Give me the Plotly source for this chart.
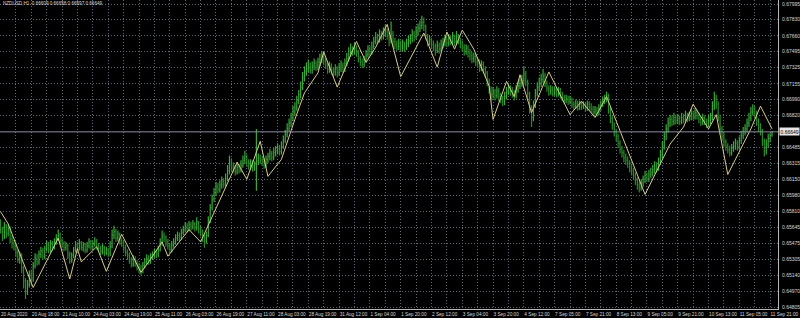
import plotly.graph_objects as go

symbol = "NZDUSD,H1"
first_open = 0.6568

close = [
0.6562,0.6555,0.6566,0.6558,0.6563,0.6552,0.6548,0.6545,0.6538,0.6531,
0.6535,0.6522,0.6508,0.6497,0.6504,0.6515,0.6510,0.6524,0.6532,0.6528,
0.6536,0.6540,0.6534,0.6542,0.6546,0.6541,0.6547,0.6544,0.6549,0.6553,
0.6556,0.6550,0.6547,0.6543,0.6545,0.6536,0.6530,0.6535,0.6541,0.6546,
0.6543,0.6548,0.6543,0.6546,0.6541,0.6545,0.6549,0.6544,0.6547,0.6550,
0.6545,0.6542,0.6539,0.6543,0.6538,0.6541,0.6537,0.6544,0.6556,0.6560,
0.6553,0.6557,0.6550,0.6548,0.6543,0.6538,0.6535,0.6530,0.6526,0.6531,
0.6527,0.6524,0.6521,0.6519,0.6524,0.6528,0.6532,0.6529,0.6533,0.6535,
0.6538,0.6536,0.6541,0.6548,0.6555,0.6553,0.6549,0.6545,0.6541,0.6546,
0.6549,0.6553,0.6556,0.6554,0.6559,0.6562,0.6566,0.6563,0.6567,0.6565,
0.6568,0.6564,0.6569,0.6563,0.6560,0.6554,0.6550,0.6556,0.6572,0.6585,
0.6594,0.6601,0.6607,0.6604,0.6609,0.6613,0.6610,0.6616,0.6624,0.6632,
0.6629,0.6626,0.6623,0.6628,0.6625,0.6630,0.6635,0.6638,0.6633,0.6629,
0.6632,0.6628,0.6630,0.6634,0.6637,0.6635,0.6633,0.6630,0.6636,0.6639,
0.6642,0.6638,0.6643,0.6645,0.6648,0.6644,0.6650,0.6656,0.6662,0.6668,
0.6674,0.6680,0.6686,0.6690,0.6698,0.6704,0.6712,0.6722,0.6728,0.6732,
0.6735,0.6730,0.6734,0.6737,0.6734,0.6738,0.6741,0.6744,0.6740,0.6735,
0.6731,0.6734,0.6730,0.6728,0.6731,0.6727,0.6732,0.6735,0.6731,0.6737,
0.6742,0.6748,0.6751,0.6749,0.6753,0.6748,0.6742,0.6738,0.6736,0.6741,
0.6746,0.6751,0.6749,0.6755,0.6760,0.6764,0.6762,0.6767,0.6765,0.6769,
0.6771,0.6766,0.6762,0.6768,0.6760,0.6757,0.6755,0.6758,0.6754,0.6757,
0.6754,0.6758,0.6761,0.6763,0.6768,0.6765,0.6770,0.6774,0.6777,0.6780,
0.6776,0.6766,0.6760,0.6762,0.6757,0.6755,0.6751,0.6756,0.6752,0.6757,
0.6759,0.6762,0.6758,0.6763,0.6760,0.6764,0.6760,0.6765,0.6761,0.6758,
0.6754,0.6750,0.6753,0.6748,0.6745,0.6742,0.6744,0.6739,0.6737,0.6733,
0.6736,0.6731,0.6727,0.6718,0.6710,0.6704,0.6707,0.6703,0.6708,0.6702,
0.6700,0.6697,0.6702,0.6707,0.6711,0.6708,0.6706,0.6703,0.6709,0.6713,
0.6716,0.6719,0.6726,0.6718,0.6705,0.6690,0.6680,0.6693,0.6705,0.6712,
0.6716,0.6720,0.6724,0.6716,0.6711,0.6708,0.6710,0.6706,0.6709,0.6705,
0.6708,0.6704,0.6701,0.6698,0.6700,0.6697,0.6699,0.6694,0.6692,0.6695,
0.6691,0.6694,0.6692,0.6693,0.6690,0.6694,0.6691,0.6689,0.6686,0.6688,
0.6685,0.6690,0.6694,0.6698,0.6700,0.6703,0.6688,0.6679,0.6672,0.6665,
0.6660,0.6653,0.6647,0.6643,0.6638,0.6635,0.6632,0.6627,0.6624,0.6619,
0.6614,0.6609,0.6606,0.6611,0.6615,0.6619,0.6616,0.6620,0.6622,0.6625,
0.6629,0.6627,0.6633,0.6641,0.6650,0.6660,0.6668,0.6674,0.6678,0.6676,
0.6680,0.6677,0.6679,0.6676,0.6680,0.6678,0.6682,0.6679,0.6681,0.6684,
0.6681,0.6685,0.6682,0.6678,0.6675,0.6679,0.6676,0.6673,0.6677,0.6680,
0.6692,0.6700,0.6694,0.6680,0.6668,0.6660,0.6654,0.6650,0.6646,0.6643,
0.6648,0.6650,0.6653,0.6649,0.6656,0.6661,0.6665,0.6668,0.6674,0.6680,
0.6686,0.6689,0.6684,0.6676,0.6670,0.6666,0.6655,0.6645,0.6652,0.6658,
0.66609,0.66649]

high = [
0.6573,0.6565,0.6570,0.6568,0.6567,0.6565,0.6556,0.6551,0.6548,0.6541,
0.6539,0.6537,0.6524,0.6511,0.6509,0.6519,0.6520,0.6528,0.6537,0.6536,
0.6540,0.6544,0.6543,0.6545,0.6550,0.6549,0.6551,0.6550,0.6553,0.6557,
0.6562,0.6559,0.6553,0.6550,0.6549,0.6547,0.6539,0.6538,0.6544,0.6550,
0.6549,0.6552,0.6550,0.6549,0.6548,0.6549,0.6553,0.6551,0.6550,0.6554,
0.6552,0.6548,0.6545,0.6547,0.6545,0.6544,0.6543,0.6550,0.6562,0.6566,
0.6563,0.6561,0.6559,0.6553,0.6550,0.6546,0.6541,0.6538,0.6533,0.6535,
0.6534,0.6530,0.6527,0.6525,0.6528,0.6532,0.6536,0.6535,0.6537,0.6539,
0.6542,0.6541,0.6545,0.6553,0.6561,0.6559,0.6556,0.6552,0.6548,0.6550,
0.6553,0.6557,0.6560,0.6559,0.6563,0.6566,0.6570,0.6569,0.6571,0.6570,
0.6572,0.6570,0.6575,0.6571,0.6566,0.6562,0.6557,0.6560,0.6576,0.6589,
0.6599,0.6606,0.6612,0.6611,0.6614,0.6618,0.6616,0.6621,0.6630,0.6640,
0.6637,0.6633,0.6630,0.6633,0.6631,0.6635,0.6640,0.6645,0.6641,0.6636,
0.6636,0.6635,0.6634,0.6668,0.6642,0.6641,0.6639,0.6637,0.6640,0.6643,
0.6647,0.6645,0.6648,0.6650,0.6653,0.6651,0.6655,0.6661,0.6667,0.6674,
0.6679,0.6685,0.6692,0.6696,0.6703,0.6709,0.6718,0.6728,0.6734,0.6738,
0.6741,0.6738,0.6739,0.6742,0.6740,0.6743,0.6747,0.6750,0.6748,0.6743,
0.6738,0.6739,0.6737,0.6733,0.6736,0.6734,0.6737,0.6740,0.6738,0.6742,
0.6748,0.6754,0.6758,0.6755,0.6759,0.6756,0.6751,0.6745,0.6742,0.6745,
0.6751,0.6756,0.6755,0.6760,0.6765,0.6770,0.6768,0.6773,0.6771,0.6775,
0.6778,0.6774,0.6770,0.6781,0.6771,0.6764,0.6761,0.6763,0.6761,0.6762,
0.6760,0.6763,0.6766,0.6768,0.6773,0.6771,0.6776,0.6779,0.6782,0.6787,
0.6785,0.6778,0.6768,0.6766,0.6764,0.6761,0.6758,0.6761,0.6759,0.6762,
0.6764,0.6767,0.6765,0.6768,0.6766,0.6770,0.6767,0.6771,0.6768,0.6764,
0.6761,0.6757,0.6757,0.6756,0.6752,0.6749,0.6748,0.6747,0.6743,0.6741,
0.6740,0.6739,0.6734,0.6729,0.6721,0.6713,0.6712,0.6710,0.6713,0.6711,
0.6706,0.6703,0.6707,0.6712,0.6716,0.6714,0.6712,0.6709,0.6714,0.6718,
0.6721,0.6725,0.6734,0.6729,0.6720,0.6707,0.6693,0.6698,0.6710,0.6717,
0.6722,0.6726,0.6731,0.6727,0.6719,0.6714,0.6714,0.6713,0.6713,0.6712,
0.6712,0.6711,0.6707,0.6704,0.6704,0.6703,0.6703,0.6701,0.6697,0.6699,
0.6698,0.6698,0.6697,0.6697,0.6696,0.6698,0.6697,0.6695,0.6692,0.6692,
0.6691,0.6694,0.6698,0.6702,0.6704,0.6707,0.6705,0.6691,0.6682,0.6675,
0.6668,0.6663,0.6656,0.6650,0.6646,0.6642,0.6639,0.6635,0.6631,0.6627,
0.6622,0.6617,0.6613,0.6615,0.6619,0.6624,0.6622,0.6625,0.6627,0.6630,
0.6634,0.6633,0.6638,0.6646,0.6655,0.6665,0.6673,0.6680,0.6683,0.6682,
0.6685,0.6683,0.6684,0.6682,0.6685,0.6684,0.6687,0.6685,0.6686,0.6689,
0.6687,0.6690,0.6688,0.6685,0.6681,0.6684,0.6682,0.6679,0.6682,0.6685,
0.6697,0.6707,0.6704,0.6697,0.6683,0.6671,0.6664,0.6657,0.6653,0.6650,
0.6652,0.6655,0.6658,0.6656,0.6660,0.6666,0.6670,0.6673,0.6679,0.6685,
0.6691,0.6694,0.6692,0.6687,0.6679,0.6674,0.6668,0.6658,0.6657,0.6663,
0.6664,0.66658]

low = [
0.6558,0.6550,0.6552,0.6553,0.6555,0.6548,0.6542,0.6540,0.6533,0.6527,
0.6526,0.6516,0.6500,0.6489,0.6493,0.6501,0.6504,0.6507,0.6521,0.6524,
0.6525,0.6532,0.6530,0.6531,0.6539,0.6537,0.6538,0.6540,0.6541,0.6546,
0.6550,0.6546,0.6543,0.6539,0.6540,0.6531,0.6526,0.6527,0.6532,0.6538,
0.6539,0.6540,0.6540,0.6539,0.6537,0.6538,0.6542,0.6540,0.6541,0.6544,
0.6541,0.6539,0.6535,0.6536,0.6534,0.6535,0.6533,0.6534,0.6542,0.6552,
0.6549,0.6550,0.6546,0.6544,0.6539,0.6534,0.6530,0.6526,0.6522,0.6523,
0.6523,0.6519,0.6516,0.6514,0.6516,0.6521,0.6525,0.6525,0.6526,0.6530,
0.6532,0.6532,0.6533,0.6539,0.6545,0.6549,0.6544,0.6541,0.6537,0.6538,
0.6543,0.6546,0.6550,0.6550,0.6551,0.6556,0.6559,0.6559,0.6560,0.6561,
0.6562,0.6560,0.6561,0.6558,0.6555,0.6549,0.6543,0.6547,0.6554,0.6569,
0.6582,0.6591,0.6598,0.6600,0.6601,0.6605,0.6606,0.6607,0.6613,0.6620,
0.6624,0.6622,0.6619,0.6620,0.6621,0.6622,0.6627,0.6631,0.6628,0.6625,
0.6625,0.6623,0.6624,0.6603,0.6630,0.6631,0.6629,0.6626,0.6627,0.6632,
0.6635,0.6634,0.6635,0.6639,0.6641,0.6640,0.6641,0.6647,0.6653,0.6659,
0.6665,0.6670,0.6676,0.6682,0.6687,0.6694,0.6700,0.6709,0.6718,0.6724,
0.6728,0.6726,0.6726,0.6730,0.6729,0.6730,0.6734,0.6737,0.6735,0.6731,
0.6726,0.6727,0.6725,0.6723,0.6724,0.6722,0.6724,0.6728,0.6727,0.6728,
0.6734,0.6739,0.6744,0.6745,0.6746,0.6744,0.6738,0.6734,0.6732,0.6733,
0.6738,0.6743,0.6745,0.6746,0.6752,0.6757,0.6758,0.6759,0.6761,0.6762,
0.6765,0.6762,0.6755,0.6758,0.6754,0.6752,0.6750,0.6751,0.6749,0.6750,
0.6749,0.6751,0.6754,0.6757,0.6759,0.6760,0.6762,0.6766,0.6770,0.6773,
0.6771,0.6762,0.6755,0.6756,0.6752,0.6750,0.6745,0.6748,0.6747,0.6749,
0.6753,0.6755,0.6754,0.6755,0.6756,0.6757,0.6755,0.6757,0.6757,0.6753,
0.6749,0.6745,0.6746,0.6743,0.6740,0.6737,0.6738,0.6734,0.6732,0.6728,
0.6729,0.6726,0.6722,0.6713,0.6705,0.6698,0.6700,0.6698,0.6700,0.6697,
0.6695,0.6692,0.6693,0.6699,0.6704,0.6703,0.6701,0.6698,0.6700,0.6706,
0.6710,0.6712,0.6715,0.6713,0.6700,0.6684,0.6670,0.6676,0.6690,0.6702,
0.6708,0.6712,0.6716,0.6712,0.6707,0.6703,0.6704,0.6702,0.6703,0.6701,
0.6702,0.6700,0.6697,0.6694,0.6695,0.6693,0.6694,0.6690,0.6688,0.6689,
0.6687,0.6688,0.6688,0.6689,0.6686,0.6687,0.6687,0.6685,0.6682,0.6683,
0.6681,0.6682,0.6687,0.6691,0.6694,0.6696,0.6684,0.6674,0.6667,0.6660,
0.6655,0.6648,0.6642,0.6638,0.6633,0.6630,0.6627,0.6622,0.6619,0.6614,
0.6609,0.6604,0.6601,0.6603,0.6607,0.6611,0.6612,0.6612,0.6616,0.6618,
0.6621,0.6622,0.6624,0.6630,0.6637,0.6646,0.6656,0.6664,0.6670,0.6671,
0.6672,0.6673,0.6673,0.6672,0.6673,0.6674,0.6675,0.6675,0.6676,0.6677,
0.6677,0.6678,0.6678,0.6674,0.6671,0.6672,0.6672,0.6669,0.6670,0.6673,
0.6677,0.6688,0.6689,0.6676,0.6663,0.6655,0.6649,0.6645,0.6642,0.6639,
0.6640,0.6644,0.6646,0.6645,0.6646,0.6652,0.6657,0.6661,0.6664,0.6670,
0.6676,0.6682,0.6679,0.6671,0.6665,0.6661,0.6650,0.6639,0.6641,0.6648,
0.6654,0.66597]

# overlay indicator line: vertices (bar index, price)
ind_x = [0, 4, 8, 17, 30, 36, 40, 42, 50, 55, 63, 73, 77, 84, 87, 98, 104,
         123, 128, 135, 139, 146, 153, 158, 165, 168, 175, 185, 190, 195, 201,
         208, 220, 227, 232, 236, 240, 246, 254, 256, 263, 267, 270, 276, 285,
         296, 302, 309, 315, 335, 348, 355, 360, 368, 372, 378, 390, 395, 401]
ind_y = [0.6581, 0.6568, 0.6547, 0.6501, 0.6553, 0.6510, 0.6542, 0.6528, 0.6544,
         0.6518, 0.6557, 0.6517, 0.6528, 0.6549, 0.6534, 0.6562, 0.6549,
         0.6633, 0.6615, 0.6655, 0.6618, 0.6636, 0.6678, 0.6706, 0.6727, 0.6749,
         0.6712, 0.6760, 0.6738, 0.6754, 0.6778,
         0.6723, 0.6769, 0.6733, 0.6770, 0.6752, 0.6772, 0.6752, 0.6713, 0.6678,
         0.6718, 0.6702, 0.6725, 0.6685, 0.6728,
         0.6683, 0.6697, 0.6680, 0.6702, 0.6599, 0.6652, 0.6670, 0.6694, 0.6668,
         0.6683, 0.6620, 0.6668, 0.6692, 0.6668]

time_labels = ["20 Aug 2020", "20 Aug 18:00", "21 Aug 10:00", "24 Aug 03:00",
               "24 Aug 19:00", "25 Aug 11:00", "26 Aug 03:00", "26 Aug 19:00",
               "27 Aug 11:00", "28 Aug 03:00", "28 Aug 19:00", "31 Aug 12:00",
               "1 Sep 04:00", "1 Sep 20:00", "2 Sep 12:00", "3 Sep 04:00",
               "3 Sep 20:00", "4 Sep 12:00", "7 Sep 05:00", "7 Sep 21:00",
               "8 Sep 13:00", "9 Sep 05:00", "9 Sep 21:00", "10 Sep 13:00",
               "11 Sep 05:00", "11 Sep 21:00"]

price_labels = ["0.67995", "0.67830", "0.67660", "0.67495", "0.67325", "0.67155",
                "0.66990", "0.66820", "0.66485", "0.66315", "0.66150", "0.65980",
                "0.65810", "0.65645", "0.65475", "0.65305", "0.65140", "0.64970",
                "0.64805"]

N = len(close)
xs = list(range(N))
opens = [first_open] + close[:-1]

BAR_STEP = 16
GRID_STEP = 8
FONT = "Liberation Sans, Arial, sans-serif"
GRID = "#5f6a78"

fig = go.Figure()
fig.add_trace(go.Ohlc(
    x=xs, open=opens, high=high, low=low, close=close,
    increasing=dict(line=dict(color="#3aa83a", width=1.2)),
    decreasing=dict(line=dict(color="#2a8a2a", width=1.2)),
    tickwidth=0.4, hoverinfo="skip", showlegend=False))
fig.add_trace(go.Scatter(
    x=ind_x, y=ind_y, mode="lines",
    line=dict(color="#d6cc8c", width=1), hoverinfo="skip", showlegend=False))

bid = close[-1]
fig.add_shape(type="line", xref="paper", x0=0, x1=1, yref="y", y0=bid, y1=bid,
              line=dict(color="#8c8ca4", width=1), layer="above")
fig.add_annotation(xref="paper", x=1, xanchor="left", yref="y", y=bid,
                   text=f"{bid:.5f}", showarrow=False,
                   font=dict(family=FONT, size=5, color="#000000"),
                   bgcolor="#e6e6e6", borderpad=0.5, xshift=1)
fig.add_annotation(xref="paper", x=0, xanchor="left", yref="paper", y=1, yanchor="top",
                   text=f"{symbol}  {opens[-1]:.5f} {high[-1]:.5f} {low[-1]:.5f} {close[-1]:.5f}",
                   showarrow=False, xshift=1, yshift=1,
                   font=dict(family=FONT, size=4.6, color="#d8d8d8"))

fig.update_layout(
    width=800, height=318,
    margin=dict(l=0, r=20, t=0, b=9),
    paper_bgcolor="#000000", plot_bgcolor="#000000",
    showlegend=False,
    xaxis=dict(
        range=[-0.26, 404.1], rangeslider=dict(visible=False),
        tickmode="array",
        tickvals=[BAR_STEP * k for k in range(len(time_labels))],
        ticktext=time_labels, tickangle=0,
        ticklabelposition="outside right", ticklabeloverflow="allow",
        tickfont=dict(family=FONT, size=4.7, color="#d8d8d8"),
        showgrid=True, gridcolor=GRID, griddash="1px,2px", gridwidth=1,
        minor=dict(tickmode="array",
                   tickvals=list(range(GRID_STEP, N + GRID_STEP, BAR_STEP)),
                   showgrid=True, gridcolor=GRID, griddash="1px,2px", gridwidth=1),
        zeroline=False, showline=True, linecolor="#b8b8b8", linewidth=1,
        ticks="", fixedrange=True),
    yaxis=dict(
        range=[0.647839, 0.680371], side="right",
        tickmode="array",
        tickvals=[float(t) for t in price_labels], ticktext=price_labels,
        tickfont=dict(family=FONT, size=5, color="#d8d8d8"),
        showgrid=True, gridcolor=GRID, griddash="1px,2px", gridwidth=1,
        zeroline=False, showline=True, linecolor="#b8b8b8", linewidth=1,
        ticks="", ticklabelstandoff=2, fixedrange=True),
)

fig.write_html("out.html")
